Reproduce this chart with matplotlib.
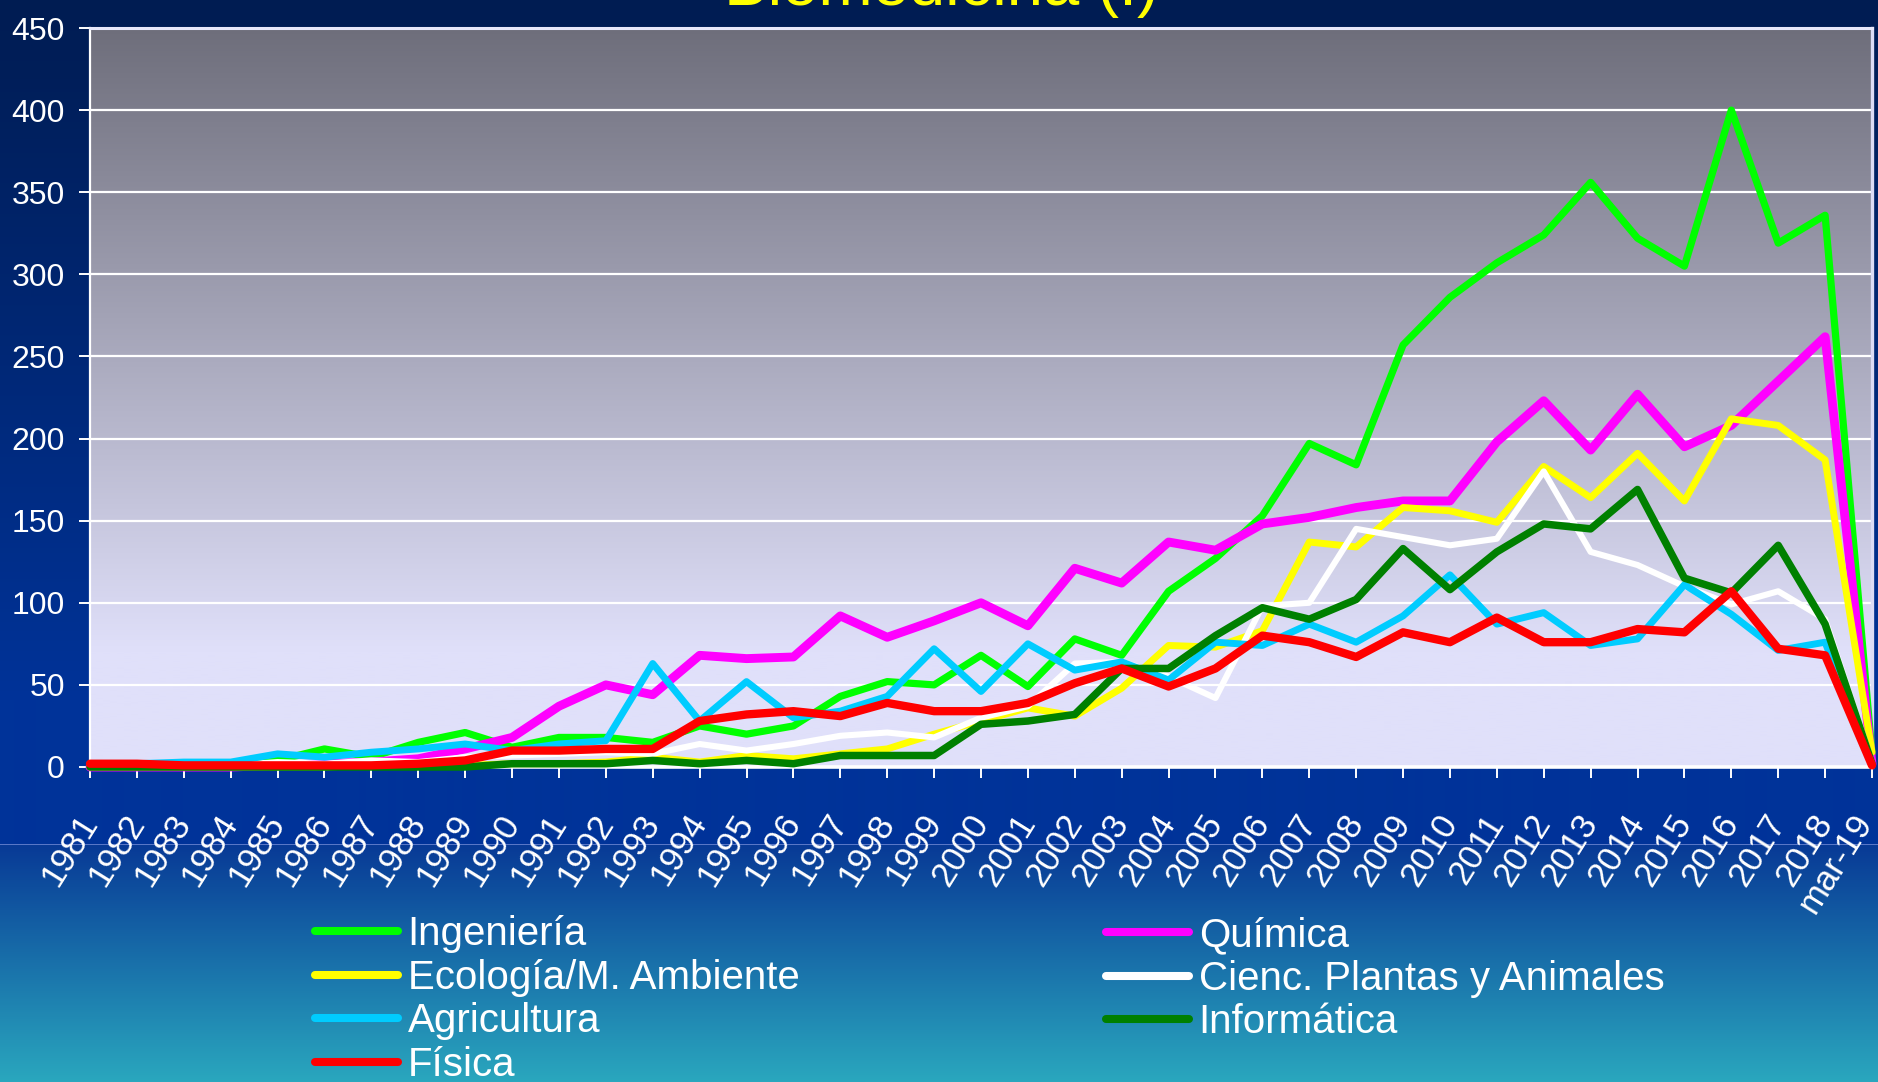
import numpy as np
import matplotlib
matplotlib.use("Agg")
import matplotlib.pyplot as plt
from matplotlib.lines import Line2D
from matplotlib.transforms import ScaledTranslation

# ---------------- data ----------------
categories = ["1981", "1982", "1983", "1984", "1985", "1986", "1987", "1988", "1989", "1990",
              "1991", "1992", "1993", "1994", "1995", "1996", "1997", "1998", "1999", "2000",
              "2001", "2002", "2003", "2004", "2005", "2006", "2007", "2008", "2009", "2010",
              "2011", "2012", "2013", "2014", "2015", "2016", "2017", "2018", "mar-19"]

ingenieria = [1, 1, 1, 1, 4, 11, 6, 15, 21, 12, 18, 18, 15, 25, 20, 25, 43, 52, 50, 68,
              49, 78, 68, 107, 127, 153, 197, 184, 257, 286, 307, 324, 356, 322, 305, 400, 319, 336, 8]
quimica = [0, 0, 0, 0, 1, 2, 3, 5, 11, 18, 37, 50, 44, 68, 66, 67, 92, 79, 89, 100,
           86, 121, 112, 137, 132, 148, 152, 158, 162, 162, 198, 223, 193, 227, 195, 208, 235, 262, 2]
ecologia = [0, 0, 0, 0, 0, 0, 1, 1, 1, 2, 2, 3, 6, 3, 7, 5, 8, 11, 20, 28,
            36, 31, 48, 74, 73, 83, 137, 134, 158, 156, 149, 183, 164, 191, 162, 212, 208, 187, 9]
plantas = [0, 0, 0, 1, 3, 2, 4, 3, 6, 7, 8, 9, 8, 14, 10, 14, 19, 21, 18, 30,
           37, 63, 64, 55, 42, 98, 100, 145, 140, 135, 139, 180, 131, 123, 110, 99, 107, 90, 3]
agricultura = [2, 2, 3, 3, 8, 6, 9, 11, 14, 10, 14, 16, 63, 28, 52, 30, 34, 43, 72, 46,
               75, 59, 64, 53, 76, 74, 87, 76, 92, 117, 87, 94, 74, 78, 111, 93, 71, 76, 1]
informatica = [0, 0, 0, 0, 0, 0, 0, 0, 0, 2, 2, 2, 4, 2, 4, 2, 7, 7, 7, 26,
               28, 32, 60, 60, 80, 97, 90, 102, 133, 108, 131, 148, 145, 169, 115, 106, 135, 87, 2]
fisica = [2, 2, 1, 1, 1, 1, 1, 2, 4, 10, 10, 11, 11, 28, 32, 34, 31, 39, 34, 34,
          39, 51, 60, 49, 60, 80, 76, 67, 82, 76, 91, 76, 76, 84, 82, 107, 72, 68, 1]

series_names = ["Ingeniería", "Química", "Ecología/M. Ambiente", "Cienc. Plantas y Animales",
                "Agricultura", "Informática", "Física"]
series_values = [ingenieria, quimica, ecologia, plantas, agricultura, informatica, fisica]
series_colors = ["#00FF00", "#FF00FF", "#FFFF00", "#FFFFFF", "#00CCFF", "#008000", "#FF0000"]
series_widths = [5.2, 6.4, 5.0, 4.4, 5.0, 5.4, 6.0]

yticks = [0, 50, 100, 150, 200, 250, 300, 350, 400, 450]
title = "Biomedicina (I)"

# ---------------- fonts ----------------
plt.rcParams['font.family'] = ['Liberation Sans', 'DejaVu Sans']

W, H = 1878, 1082
fig = plt.figure(figsize=(W / 100, H / 100), dpi=100)

# ---------------- figure background gradient ----------------
grad = np.zeros((H, 1, 3))
top_c = np.array([0, 28, 82]) / 255
mid_c = np.array([0, 51, 153]) / 255
low_a = np.array([8, 58, 150]) / 255
low_b = np.array([42, 167, 190]) / 255
for r in range(H):
    if r < 700:
        t = r / 700
        grad[r, 0] = top_c + (mid_c - top_c) * t
    elif r < 844:
        grad[r, 0] = mid_c
    elif r == 844:
        grad[r, 0] = np.array([90, 120, 200]) / 255
    else:
        t = (r - 845) / (H - 1 - 845)
        grad[r, 0] = low_a + (low_b - low_a) * t
bg = fig.add_axes([0, 0, 1, 1], zorder=-10)
bg.imshow(grad, extent=[0, 1, 0, 1], aspect='auto', interpolation='bilinear')
bg.axis('off')

# ---------------- main axes ----------------
left, right, top, bottom = 90, 1872, 28, 767
ax = fig.add_axes([left / W, (H - bottom) / H, (right - left) / W, (bottom - top) / H])
ax.set_facecolor('none')
n = len(categories)
x = np.arange(n)
ax.set_xlim(0, n - 1)
ax.set_ylim(0, 450)

# plot area gradient (dark gray top -> lavender bottom)
vals = np.linspace(450, 0, 400)
pg = np.zeros((len(vals), 1, 3))
c_top = np.array([110, 110, 123]) / 255
c_bot = np.array([224, 224, 250]) / 255
for i, v in enumerate(vals):
    t = min(1.0, (450 - v) / (450 - 70))
    pg[i, 0] = c_top + (c_bot - c_top) * t
ax.imshow(pg, extent=[0, n - 1, 0, 450], aspect='auto', zorder=0, interpolation='bilinear')

ax.set_yticks(yticks)
ax.yaxis.grid(True, color='white', linewidth=1.6, zorder=1)
ax.set_axisbelow(True)

for i, (name, vals_s, col, lw) in enumerate(zip(series_names, series_values, series_colors, series_widths)):
    ax.plot(x, vals_s, color=col, linewidth=lw, label=name, zorder=3 + i, clip_on=False,
            solid_joinstyle='round', solid_capstyle='round')

# spines
ax.spines['left'].set_color('white')
ax.spines['left'].set_linewidth(1.6)
ax.spines['bottom'].set_color('white')
ax.spines['bottom'].set_linewidth(2.6)
ax.spines['top'].set_color('#e8e8fb')
ax.spines['top'].set_linewidth(2.2)
ax.spines['right'].set_color('#dcdcf5')
ax.spines['right'].set_linewidth(2.4)

ax.set_xticks(x)
ax.set_xticklabels(categories)
ax.tick_params(axis='y', colors='white', length=8, width=1.4, labelsize=23, pad=10)
ax.tick_params(axis='x', colors='white', length=8, width=1.4, labelsize=25, pad=28)
xlabels = ax.get_xticklabels()
for lab in xlabels:
    lab.set_rotation(58)
    lab.set_ha('right')
    lab.set_va('center')
    lab.set_rotation_mode('anchor')
# keep the last (edge) label inside the figure
xlabels[-1].set_transform(xlabels[-1].get_transform() + ScaledTranslation(-7 / 100, 0, fig.dpi_scale_trans))

# ---------------- title ----------------
fig.text(941 / W, 1 - 5 / H, title, ha='center', va='baseline', color='#FFFF00', fontsize=47)

# ---------------- legend (two columns) ----------------
handles = {name: Line2D([], [], color=c, linewidth=5.8, solid_capstyle='round')
           for name, c in zip(series_names, series_colors)}
col1 = ["Ingeniería", "Ecología/M. Ambiente", "Agricultura", "Física"]
col2 = ["Química", "Cienc. Plantas y Animales", "Informática"]
leg_kw = dict(frameon=False, fontsize=29, labelcolor='white', handlelength=2.05,
              handletextpad=0.25, labelspacing=0.14, borderpad=0, borderaxespad=0,
              loc='upper left')
l1 = fig.legend([handles[k] for k in col1], col1, bbox_to_anchor=(315 / W, 1 - 915 / H), **leg_kw)
l2 = fig.legend([handles[k] for k in col2], col2, bbox_to_anchor=(1106 / W, 1 - 916 / H), **leg_kw)

fig.savefig("out.png", dpi=100)
